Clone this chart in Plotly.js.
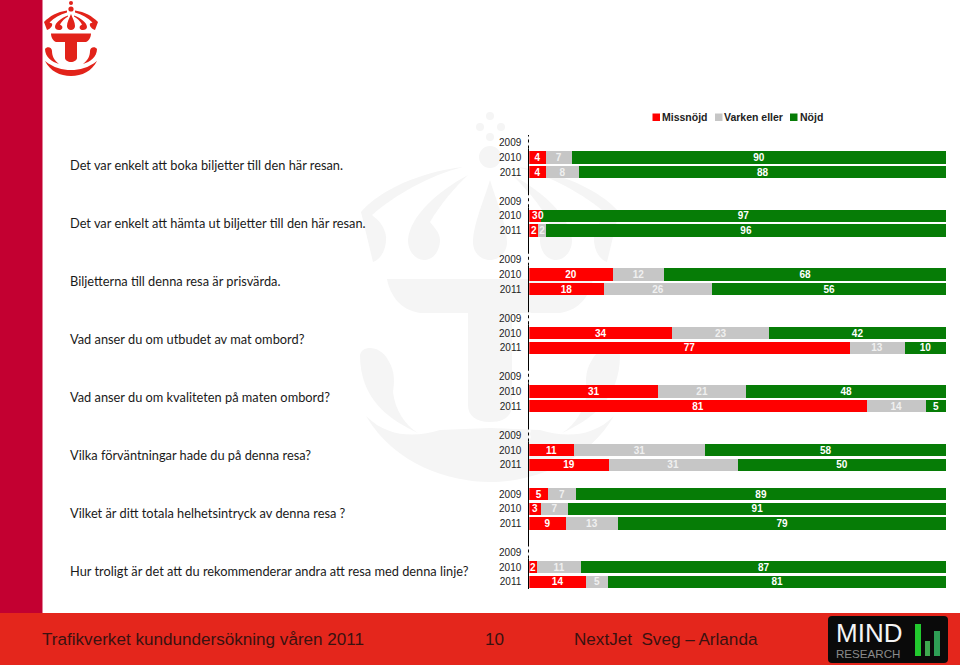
<!DOCTYPE html>
<html>
<head>
<meta charset="utf-8">
<script src="https://cdn.plot.ly/plotly-3.0.1.min.js"></script>
<style>html,body{margin:0;padding:0;background:#fff;overflow:hidden}#chart{width:960px;height:665px}</style>
</head>
<body>
<div id="chart"></div>
<script>
// ---- data ----
var seriesNames = ['Missnöjd', 'Varken eller', 'Nöjd'];
var seriesColors = ['#FF0000', '#C6C6C6', '#067C06'];
var questions = [
  'Det var enkelt att boka biljetter till den här resan.',
  'Det var enkelt att hämta ut biljetter till den här resan.',
  'Biljetterna till denna resa är prisvärda.',
  'Vad anser du om utbudet av mat ombord?',
  'Vad anser du om kvaliteten på maten ombord?',
  'Vilka förväntningar hade du på denna resa?',
  'Vilket är ditt totala helhetsintryck av denna resa ?',
  'Hur troligt är det att du rekommenderar andra att resa med denna linje?'
];
var years = ['2009', '2010', '2011'];
// printed labels, one entry per question: [2009, 2010, 2011]
var missnojdLabels = [[null,4,4],[null,3,2],[null,20,18],[null,34,77],[null,31,81],[null,11,19],[5,3,9],[null,2,14]];
var varkenLabels   = [[null,7,8],[null,0,2],[null,12,26],[null,23,13],[null,21,14],[null,31,31],[7,7,13],[null,11,5]];
var nojdLabels     = [[null,90,88],[null,97,96],[null,68,56],[null,42,10],[null,48,5],[null,58,50],[89,91,79],[null,87,81]];
// bar lengths (share of the row, unrounded)
var missnojd = [[null,3.9,3.9],[null,2.7,2.2],[null,20.0,17.8],[null,34.3,76.8],[null,30.9,80.9],[null,10.7,19.0],[4.5,2.7,8.7],[null,1.8,13.6]];
var varken   = [[null,6.3,8.1],[null,0,1.8],[null,12.4,26.1],[null,23.2,13.2],[null,21.1,14.2],[null,31.5,31.0],[6.7,6.7,12.6],[null,10.7,5.3]];
var nojd     = [[null,89.8,88.0],[null,97.3,96.0],[null,67.6,56.1],[null,42.5,10.0],[null,48.0,4.9],[null,57.8,50.0],[88.8,90.6,78.7],[null,87.5,81.1]];

// ---- helpers ----
var W = 960, H = 665;
var MC = 490;
function px(x){ return x / W; }
function py(y){ return 1 - y / H; }
function P(s){
  return s.replace(/(-?[\d.]+)[ ,](-?[\d.]+)/g, function(m, a, b){
    return (parseFloat(a) / W).toFixed(5) + ',' + (1 - parseFloat(b) / H).toFixed(5);
  });
}
function mirror(s){
  return s.replace(/(-?[\d.]+)[ ,](-?[\d.]+)/g, function(m, a, b){
    return (MC * 2 - parseFloat(a)) + ',' + b;
  });
}
function fill(path, color){
  return {type:'path', xref:'paper', yref:'paper', path:P(path), fillcolor:color, line:{width:0}, layer:'below'};
}
function circ(cx, cy, r, color){
  return {type:'circle', xref:'paper', yref:'paper', x0:px(cx-r), x1:px(cx+r), y0:py(cy+r), y1:py(cy-r), fillcolor:color, line:{width:0}, layer:'below'};
}
function rect(x0, y0, x1, y1, color){
  return {type:'rect', xref:'paper', yref:'paper', x0:px(x0), x1:px(x1), y0:py(y1), y1:py(y0), fillcolor:color, line:{width:0}, layer:'below'};
}
function txt(x, y, text, size, color, family, weight){
  return {xref:'paper', yref:'paper', x:px(x), y:py(y), text:text, showarrow:false, xanchor:'left', yanchor:'middle',
          font:{size:size, color:color, family:family, weight:weight||'normal'}, borderpad:0, borderwidth:0};
}
function flatten(s){ var o = []; s.forEach(function(g){ g.forEach(function(v){ o.push(v); }); }); return o; }

// ---- rows ----
var rowY = [], tickVals = [], tickText = [];
questions.forEach(function(q, gi){
  years.forEach(function(y, yi){
    var r = gi * 4 + yi;
    rowY.push(r); tickVals.push(r); tickText.push(y);
  });
});
var values = [flatten(missnojd), flatten(varken), flatten(nojd)];
var labels = [flatten(missnojdLabels), flatten(varkenLabels), flatten(nojdLabels)];
var labelColors = ['#FFFFFF', '#F0F0F0', '#FFFFFF'];
var barFont = 'Liberation Sans, Arial, sans-serif';

var traces = seriesNames.map(function(n, k){
  return {
    type:'bar', orientation:'h', name:n, y:rowY, x:values[k],
    marker:{color:seriesColors[k], line:{width:0}},
    text:labels[k].map(function(v){ return v === null ? '' : String(v); }),
    textposition:'inside', insidetextanchor:'middle', textangle:0, constraintext:'none',
    insidetextfont:{family:barFont, size:10, color:labelColors[k], weight:'bold'},
    hoverinfo:'x+y+name', cliponaxis:false
  };
});

// ---- decoration ----
var WM = '#F5F5F5', LG = '#E2231A';
var shapes = [];
shapes.push(rect(0, 0, 42.5, 613, '#C30031'));
shapes.push(rect(0, 613, 960, 665, '#E4261C'));

// watermark crown
[[490,116,4],[480,127,4],[501,127,4],[490,137,4],[490,157,11]].forEach(function(c){ shapes.push(circ(c[0],c[1],c[2],WM)); });
var wmParts = [
  'M 463,167 C 420,172 380,190 361,212 L 373,262 C 385,258 388,240 385,232 C 382,222 375,218 372,215 C 395,195 430,175 463,167 Z',
  'M 468,175 C 440,190 410,215 408,240 C 408,252 416,260 424,260 C 434,260 440,250 440,240 C 440,232 432,225 430,222 C 440,205 455,187 468,175 Z',
  'M 387,279 L 490,279 L 490,313 L 420,313 C 400,310 390,295 387,279 Z',
  'M 360,355 C 362,345 380,345 388,360 C 396,372 394,385 393,392 C 395,410 405,425 418,433 C 390,420 360,400 360,355 Z',
  'M 366,416 C 395,465 450,482 490,482 L 490,428 L 440,430 C 420,436 390,440 366,416 Z'
];
wmParts.forEach(function(p){ shapes.push(fill(p, WM)); shapes.push(fill(mirror(p), WM)); });
shapes.push(fill('M 490,180 C 484,200 473,225 473,242 C 473,253 481,260 490,260 C 499,260 507,253 507,242 C 507,225 496,200 490,180 Z', WM));
shapes.push(fill('M 468,313 L 512,313 L 512,405 C 512,415 505,422 490,422 C 475,422 468,415 468,405 Z', WM));

// top-left logo
shapes.push(circ(71, 3, 2, LG));
shapes.push(circ(71, 9, 2.6, LG));
MC = 71;
var logoParts = [
  'M 67,10.5 C 57,12 50,16 44,22 L 47,30 C 50,29 53,26 52,23.5 L 49.5,22.5 C 54,18 60,14.5 67,12.5 Z',
  'M 68,15.5 C 61,18 55,23 55,27 C 55,29 57,30 59,30 C 62,30 63,28 62,26 L 60,24.5 C 62,21 65,18 68,16.5 Z',
  'M 51,33.5 L 71,33.5 L 71,62 C 68,62 65,60 65,58 L 65,42 L 56,42 C 53,41 51,37 51,33.5 Z',
  'M 45,49 C 47,46 52,47 52,51 C 52,56 54,60 59,64 C 52,62 45,57 45,49 Z',
  'M 45,61 C 50,71 60,76 71,76 L 71,70 C 62,70 54,68 45,61 Z'
];
logoParts.forEach(function(p){ shapes.push(fill(p, LG)); shapes.push(fill(mirror(p), LG)); });
shapes.push(fill('M 71,14 C 69,19 67,22 67,26 C 67,28.5 69,30 71,30 C 73,30 75,28.5 75,26 C 75,22 73,19 71,14 Z', LG));

// MIND RESEARCH logo
shapes.push(fill('M 832,616 L 944,616 Q 948,616 948,620 L 948,659 Q 948,663 944,663 L 832,663 Q 828,663 828,659 L 828,620 Q 828,616 832,616 Z', '#0A0A0A'));
shapes.push(rect(915, 624, 921, 656, '#22C92E'));
shapes.push(rect(925, 641, 930, 656, '#3FA84F'));
shapes.push(rect(934, 631, 940, 656, '#2E9E55'));

// broken axis line beside the empty 2009 rows
for (var g = 0; g < questions.length; g++) {
  if (missnojd[g][0] === null) {
    var r0 = g * 4;
    shapes.push({type:'line', xref:'paper', yref:'y', x0:px(529.3), x1:px(529.3), y0:r0 - 0.42, y1:r0 + 0.42,
                 line:{color:'#FFFFFF', width:2.5, dash:'3px,3px'}, layer:'above'});
  }
}

// ---- text ----
var body = 'Lato, Carlito, Calibri, sans-serif';
var arial = 'Liberation Sans, Arial, sans-serif';
var annotations = [];
questions.forEach(function(q, i){
  annotations.push(txt(70, 165 + i * 58, q, 12.8, '#1A1A1A', body));
});
// a printed value on a bar of no length
values[1].forEach(function(v, i){
  if (v === 0) {
    annotations.push({xref:'x', yref:'y', x:values[0][i], y:rowY[i], text:String(labels[1][i]), showarrow:false,
      xanchor:'center', yanchor:'middle', font:{family:barFont, size:10, color:'#FFFFFF', weight:'bold'}});
  }
});
// legend
var legendX = [[652.5,661.5],[715,723.5],[790,799.5]];
seriesNames.forEach(function(n, k){
  shapes.push(rect(legendX[k][0], 113.5, legendX[k][0] + 7.5, 121, seriesColors[k]));
  annotations.push(txt(legendX[k][1], 117.5, n, 10.5, '#222222', arial, 'bold'));
});
// footer
annotations.push(txt(42, 639, 'Trafikverket kundundersökning våren 2011', 17.1, '#3A1210', arial));
annotations.push(txt(485, 639, '10', 17.1, '#3A1210', arial));
annotations.push(txt(574, 639, 'NextJet  Sveg – Arlanda', 17.1, '#3A1210', arial));
annotations.push(txt(836, 632.5, 'MIND', 26, '#F4F4F4', arial));
annotations.push(txt(836, 653.5, 'RESEARCH', 11.6, '#8A8A8A', arial));

var layout = {
  width:W, height:H, margin:{l:0,r:0,t:0,b:0,pad:0},
  paper_bgcolor:'#FFFFFF', plot_bgcolor:'rgba(0,0,0,0)',
  barmode:'stack', bargap:0.16, showlegend:false,
  xaxis:{domain:[529.3/W, 946.3/W], range:[0,100.01], visible:false, fixedrange:true},
  yaxis:{domain:[1-589.3/H, 1-135.4/H], range:[30.5,-0.5], tickmode:'array', tickvals:tickVals, ticktext:tickText,
         showgrid:false, zeroline:false, showline:true, linecolor:'#000000', linewidth:1.5,
         ticks:'outside', ticklen:4.5, tickwidth:1, tickcolor:'rgba(0,0,0,0)',
         tickfont:{family:arial, size:10, color:'#222222'}, fixedrange:true},
  shapes:shapes, annotations:annotations
};
Plotly.newPlot('chart', traces, layout, {displayModeBar:false, staticPlot:true});
</script>
</body>
</html>
